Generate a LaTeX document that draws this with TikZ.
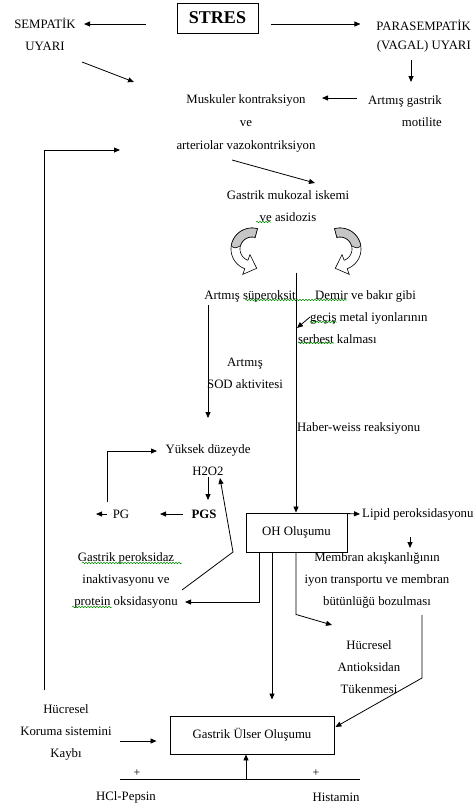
\documentclass[tikz,border=0pt]{standalone}
\usepackage{fontspec}
\setmainfont{Liberation Serif}
\usetikzlibrary{arrows.meta,calc,decorations.pathmorphing}
\newcommand{\bentarrow}{%
 \filldraw[fill=white, line width=0.6pt]
   plot[domain=-75:-250, samples=30] ({252+21*cos(\x)},{249+21*sin(\x)})
   -- ({252+27*cos(-250)},{249+27*sin(-250)})
   -- (256.7,268.3)
   -- ({252+6*cos(-250)},{249+6*sin(-250)})
   -- plot[domain=-250:-75, samples=30] ({252+12*cos(\x)},{249+12*sin(\x)})
   -- cycle;
 \filldraw[fill=gray!45, line width=0.6pt]
   plot[domain=-75:-172, samples=20] ({252+21*cos(\x)},{249+21*sin(\x)})
   .. controls ({252+17*cos(-178)},{249+17*sin(-178)}) .. ({252+12*cos(-165)},{249+12*sin(-165)})
   -- plot[domain=-165:-75, samples=20] ({252+12*cos(\x)},{249+12*sin(\x)})
   -- cycle;
}
\begin{document}
\begin{tikzpicture}[x=1pt,y=-1pt,
  txt/.style={inner sep=0pt, align=center, font=\fontsize{12.8}{22}\selectfont},
  boxnode/.style={draw, line width=0.9pt, inner sep=0pt, font=\fontsize{12.8}{22}\selectfont},
  arr/.style={line width=0.8pt, -{Triangle[length=6pt,width=5pt]}},
  ln/.style={line width=0.8pt},
  squig/.style={green!55!black, line width=0.5pt, decorate, decoration={snake, amplitude=0.8pt, segment length=3pt}}]

\fill[white] (0,0) rectangle (472,807);
\useasboundingbox (0,0) rectangle (472,807);

% nodes
\node[boxnode, minimum width=81pt, minimum height=30pt, font=\fontsize{18}{20}\selectfont\bfseries] (stres) at (217.5,18) {STRES};
\node[txt] (semp) at (45,34.5) {SEMPATİK\\UYARI};
\node[txt, align=right, anchor=east, font=\fontsize{12.8}{19}\selectfont] (para) at (471,36.5) {PARASEMPATİK\\(VAGAL) UYARI};
\node[txt, font=\fontsize{12.8}{23}\selectfont] (musk) at (246,123) {Muskuler kontraksiyon\\ve\\arteriolar vazokontriksiyon};
\node[txt, align=right, anchor=east] (gast) at (442,111) {Artmış gastrik\\motilite};
\node[txt] (iske) at (288,206) {Gastrik mukozal iskemi\\ve asidozis};
\node[txt] (super) at (250,296) {Artmış süperoksit};
\node[txt, anchor=west] (dem1) at (315,296) {Demir ve bakır gibi};
\node[txt, anchor=west] (dem2) at (310,318) {geçiş metal iyonlarının};
\node[txt, anchor=west] (dem3) at (298,339) {serbest kalması};
\node[txt] (sod) at (245,373) {Artmış\\SOD aktivitesi};
\node[txt, anchor=west] (haber) at (297,428) {Haber-weiss reaksiyonu};
\node[txt] (h2o2) at (208,460) {Yüksek düzeyde\\H2O2};
\node[txt] (pg) at (121,514) {PG};
\node[txt, font=\fontsize{12.8}{22}\selectfont\bfseries] (pgs) at (204,514) {PGS};
\node[boxnode, minimum width=101pt, minimum height=39pt] (oh) at (296.5,532.5) {OH Oluşumu};
\node[txt, anchor=west] (lipid) at (362,514) {Lipid peroksidasyonu};
\node[txt] (memb) at (377,580) {Membran akışkanlığının\\iyon transportu ve membran\\bütünlüğü bozulması};
\node[txt] (perok) at (126,580) {Gastrik peroksidaz\\inaktivasyonu ve\\protein oksidasyonu};
\node[txt] (antiox) at (369,667) {Hücresel\\Antioksidan\\Tükenmesi};
\node[boxnode, minimum width=164pt, minimum height=38pt] (ulser) at (252,735) {Gastrik Ülser Oluşumu};
\node[txt] (koruma) at (66,732) {Hücresel\\Koruma sistemini\\Kaybı};
\node[txt] (hcl) at (126,797) {HCl-Pepsin};
\node[txt] (hist) at (336,797) {Histamin};
\node[txt, font=\fontsize{12}{14}\selectfont] (plus1) at (137,773) {+};
\node[txt, font=\fontsize{12}{14}\selectfont] (plus2) at (316,773) {+};

% curved block arrows
\bentarrow
\begin{scope}[shift={(592,0)}, xscale=-1]
\bentarrow
\end{scope}

% connectors
\draw[arr] ($(stres.west)+(-31,6)$) -- ($(semp)+(39,-10.5)$);
\draw[arr] ($(stres.east)+(13,6)$) -- ($(stres.east)+(102,6)$);
\draw[arr] ($(gast.east)+(-31,-51)$) -- ($(gast.east)+(-31,-29)$);
\draw[arr] ($(semp)+(37,27.5)$) -- ($(musk)+(-112,-41)$);
\draw[arr] ($(gast.east)+(-85,-13)$) -- ($(musk)+(76,-25)$);
\draw[arr] ($(koruma)+(-22,-42)$) |- ($(musk)+(-126,27)$);
\draw[arr] ($(musk)+(-14,37)$) -- ($(iske)+(27,-23)$);
\draw[arr] ($(oh.north)+(-0.5,-240)$) -- ($(oh.north)+(-0.5,0)$);
\draw[arr] ($(dem2.west)+(0,-1)$) -- ($(dem2.west)+(-13,10)$);
\draw[arr] ($(super)+(-42,9)$) -- ($(h2o2)+(0,-42)$);
\draw[arr] ($(pg)+(-14,-12)$) |- ($(h2o2)+(-51,-9)$);
\draw[arr] ($(h2o2)+(0,17)$) -- ($(pgs)+(4,-14)$);
\draw[arr] ($(pgs)+(-21,0)$) -- ($(pg)+(39,0)$);
\draw[arr] ($(pg)+(-14,0)$) -- ($(pg)+(-25,0)$);
\draw[arr] ($(perok)+(56,10)$) -- (233,552) -- ($(h2o2)+(12,18)$);
\draw[arr] ($(oh.north east)+(0,1)$) -- ($(lipid.west)+(-2,0)$);
\draw[arr] ($(lipid.west)+(48,23)$) -- ($(memb)+(33,-32)$);
\draw[arr] ($(oh.south)+(-37.5,0)$) |- ($(perok)+(59,22)$);
\draw[arr] ($(oh.south)+(-24.5,0)$) -- ($(ulser.north)+(20,-16)$);
\draw[arr] ($(oh.south)+(-0.5,0)$) -- ($(oh.south)+(-0.5,62)$) -- ($(antiox)+(-37,-42)$);
\draw[arr] ($(memb)+(45,35)$) -- ($(memb)+(45,98)$) -- ($(ulser.east)+(1,-8)$);
\draw[arr] ($(koruma)+(54,9)$) -- ($(ulser.west)+(-13,6)$);
\draw[ln] ($(hcl)+(-6,-18)$) -- ($(hist)+(24,-18)$);
\draw[arr] ($(ulser.south)+(-6,25)$) -- ($(ulser.south)+(-6,0)$);

% spell-check squiggles
\draw[squig] (256,222) -- (271,222);
\draw[squig] (245,300) -- (347,300);
\draw[squig] (310,322) -- (337,322);
\draw[squig] (298,343) -- (334,343);
\draw[squig] (82,563) -- (182,563);
\draw[squig] (72,607) -- (112,607);
\end{tikzpicture}
\end{document}
